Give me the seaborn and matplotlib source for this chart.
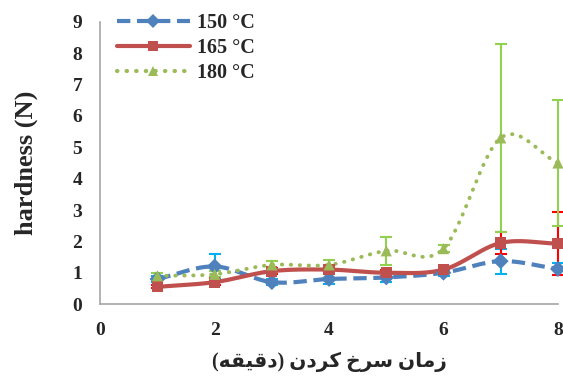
import numpy as np
import pandas as pd
import matplotlib
matplotlib.use("Agg")
import matplotlib.pyplot as plt
import seaborn as sns
from matplotlib.lines import Line2D

# ---- data ----
times = [1, 2, 3, 4, 5, 6, 7, 8]
hard_150 = [0.80, 1.20, 0.70, 0.80, 0.85, 1.00, 1.37, 1.12]
err_150 = [0.10, 0.40, 0.10, 0.15, 0.15, 0.10, 0.40, 0.20]
hard_165 = [0.55, 0.70, 1.05, 1.10, 1.00, 1.10, 1.95, 1.93]
err_165 = [0.05, 0.08, 0.10, 0.08, 0.10, 0.08, 0.35, 1.00]
hard_180 = [0.90, 0.95, 1.25, 1.25, 1.70, 1.77, 5.30, 4.50]
err_180 = [0.10, 0.10, 0.12, 0.15, 0.45, 0.10, 3.00, 2.00]
series_labels = ["150 °C", "165 °C", "180 °C"]
x_ticks = [0, 2, 4, 6, 8]
y_ticks = list(range(10))

# Persian x label in presentation forms (visual order): زمان سرخ کردن (دقیقه)
xlabel = ("(" + "\uFEEA\uFED8\uFEF4\uFED7\uFEA9" + ")" + " "
          + "\uFEE5\uFEA9\uFEAE\uFB90" + " "
          + "\uFEA5\uFEAE\uFEB3" + " "
          + "\uFEE5\uFE8E\uFEE3\uFEAF")

colors = ["#4F81BD", "#C0504D", "#9BBB59"]
err_colors = ["#00B0F0", "#FF0000", "#92D050"]
markers = ["D", "s", "^"]
linestyles = [(0, (3.2, 1.6)), "-", (0, (0.1, 2.2))]

df = pd.DataFrame({
    "time": times * 3,
    "hardness": hard_150 + hard_165 + hard_180,
    "err": err_150 + err_165 + err_180,
    "series": [s for s in series_labels for _ in times],
})

sns.set_theme(style="white")
plt.rcParams["font.family"] = ["Liberation Serif", "DejaVu Sans"]
plt.rcParams["font.weight"] = "bold"


def catmull_rom(x, y, n=30):
    x = np.asarray(x, float); y = np.asarray(y, float)
    px = np.concatenate([[2 * x[0] - x[1]], x, [2 * x[-1] - x[-2]]])
    py = np.concatenate([[2 * y[0] - y[1]], y, [2 * y[-1] - y[-2]]])
    xs, ys = [], []
    t = np.linspace(0, 1, n)
    for i in range(1, len(px) - 2):
        p0, p1, p2, p3 = [np.array([px[j], py[j]]) for j in range(i - 1, i + 3)]
        t2, t3 = t * t, t * t * t
        pts = 0.5 * ((2 * p1)[None, :] + (-p0 + p2)[None, :] * t[:, None]
                     + (2 * p0 - 5 * p1 + 4 * p2 - p3)[None, :] * t2[:, None]
                     + (-p0 + 3 * p1 - 3 * p2 + p3)[None, :] * t3[:, None])
        xs.append(pts[:, 0]); ys.append(pts[:, 1])
    return np.concatenate(xs), np.concatenate(ys)


fig = plt.figure(figsize=(5.63, 3.83), dpi=100)
ax = fig.add_axes([0.178, 0.206, 0.813, 0.737])

handles = []
for i, lab in enumerate(series_labels):
    sub = df[df["series"] == lab]
    ax.errorbar(sub["time"], sub["hardness"], yerr=sub["err"], fmt="none",
                ecolor=err_colors[i], elinewidth=1.5, capsize=4.5, capthick=1.5,
                zorder=2, clip_on=False)
    sx, sy = catmull_rom(sub["time"], sub["hardness"])
    ls = linestyles[i]
    ax.plot(sx, sy, color=colors[i], lw=3 if i < 2 else 2.8, linestyle=ls,
            dash_capstyle="round" if i == 2 else "butt", zorder=3, clip_on=False)
    handles.append(Line2D([0], [0], color=colors[i], lw=3, linestyle=ls,
                          dash_capstyle="round" if i == 2 else "butt",
                          marker=markers[i], markersize=7.5, markeredgewidth=0,
                          markerfacecolor=colors[i]))

sns.scatterplot(data=df, x="time", y="hardness", hue="series", style="series",
                palette=colors, markers=markers, s=65, linewidth=0, ax=ax,
                legend=False, zorder=4, clip_on=False)

ax.set_xlim(0, 8)
ax.set_ylim(0, 9)
ax.set_xticks(x_ticks)
ax.set_yticks(y_ticks)
ax.tick_params(axis="y", length=0, labelsize=14, pad=13)
ax.tick_params(axis="x", length=0, labelsize=14, pad=13)
for t in ax.get_xticklabels() + ax.get_yticklabels():
    t.set_fontweight("bold")
for s in ["top", "right"]:
    ax.spines[s].set_visible(False)
for s in ["left", "bottom"]:
    ax.spines[s].set_color("#A6A6A6")
    ax.spines[s].set_linewidth(1.2)

ax.set_ylabel("hardness (N)", fontsize=19, fontweight="bold")
ax.yaxis.set_label_coords(-0.137, 0.5)
ax.set_xlabel(xlabel, fontsize=14.5, fontweight="bold")
ax.xaxis.set_label_coords(0.5, -0.168)

ax.legend(handles, series_labels, loc="upper left",
          bbox_to_anchor=(117 / 563, 1 - 13 / 383), bbox_transform=fig.transFigure,
          frameon=False, handlelength=3.6, handletextpad=0.35, labelspacing=0.25,
          borderpad=0, borderaxespad=0,
          prop={"family": "Liberation Serif", "weight": "bold", "size": 14.5})

fig.savefig("out.png", dpi=100)
